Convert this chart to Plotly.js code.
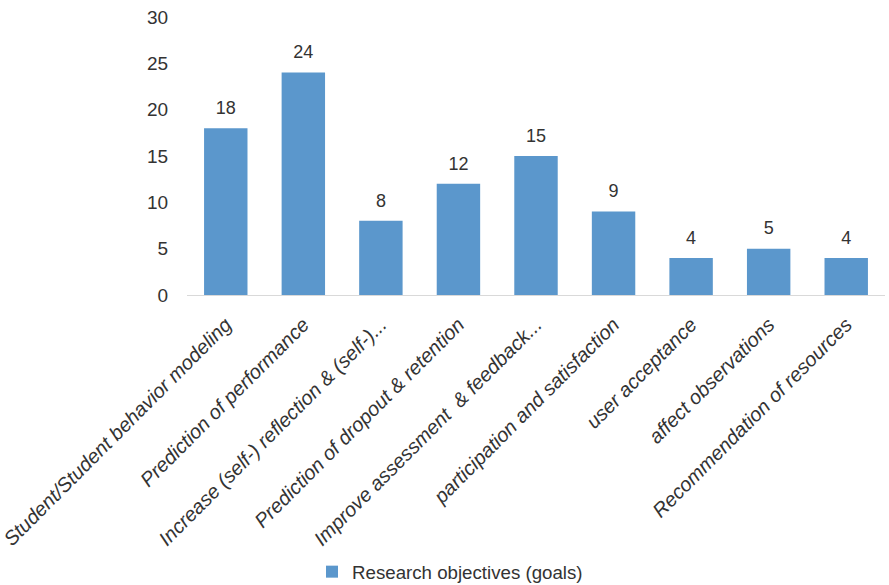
<!DOCTYPE html>
<html>
<head>
<meta charset="utf-8">
<script src="https://cdn.plot.ly/plotly-3.0.1.min.js"></script>
<style>html,body{margin:0;padding:0;background:#fff;}#chart{width:889px;height:585px;}</style>
</head>
<body>
<div id="chart"></div>
<script>
var categories = [
  "Student/Student behavior modeling",
  "Prediction of performance",
  "Increase (self-) reflection & (self-)...",
  "Prediction of dropout & retention",
  "Improve assessment\u00a0 & feedback...",
  "participation and satisfaction",
  "user acceptance",
  "affect observations",
  "Recommendation of resources"
];
var values = [18, 24, 8, 12, 15, 9, 4, 5, 4];
var seriesName = "Research objectives (goals)";
var yTicks = [0, 5, 10, 15, 20, 25, 30];

var FONT = "Liberation Sans, Arial, sans-serif";

var bars = {
  type: "bar",
  x: categories,
  y: values,
  name: seriesName,
  marker: {color: "#5b97cc"},
  showlegend: true,
  hoverinfo: "none"
};

var labels = {
  type: "scatter",
  mode: "markers+text",
  x: categories,
  y: values,
  text: values.map(String),
  textposition: "top center",
  marker: {size: 14, opacity: 0, color: "#fff"},
  textfont: {family: FONT, size: 18, color: "#333333"},
  cliponaxis: false,
  showlegend: false,
  hoverinfo: "none"
};

var layout = {
  width: 889,
  height: 585,
  margin: {l: 187, r: 4, t: 17, b: 290},
  paper_bgcolor: "#fff",
  plot_bgcolor: "#fff",
  bargap: 0.44,
  font: {family: FONT, color: "#404040"},
  xaxis: {
    type: "category",
    range: [-0.5, categories.length - 0.5],
    tickangle: -45,
    tickfont: {size: 20, style: "italic", color: "#333333"},
    showline: true,
    linecolor: "#d9d9d9",
    linewidth: 1,
    ticks: "outside",
    ticklen: 9,
    tickcolor: "rgba(0,0,0,0)",
    showgrid: false,
    zeroline: false,
    automargin: false
  },
  yaxis: {
    range: [0, 30],
    tickvals: yTicks,
    ticktext: yTicks.map(String),
    tickfont: {size: 19, color: "#333333"},
    showgrid: false,
    zeroline: false,
    showline: false,
    ticks: "outside",
    ticklen: 14,
    tickcolor: "rgba(0,0,0,0)",
    automargin: false
  },
  showlegend: true,
  legend: {
    orientation: "h",
    xref: "container",
    yref: "container",
    x: 312 / 889,
    xanchor: "left",
    y: 13 / 585,
    yanchor: "middle",
    itemwidth: 30,
    font: {size: 18.7, color: "#333333"}
  }
};

Plotly.newPlot("chart", [bars, labels], layout, {displayModeBar: false, staticPlot: true});
</script>
</body>
</html>
